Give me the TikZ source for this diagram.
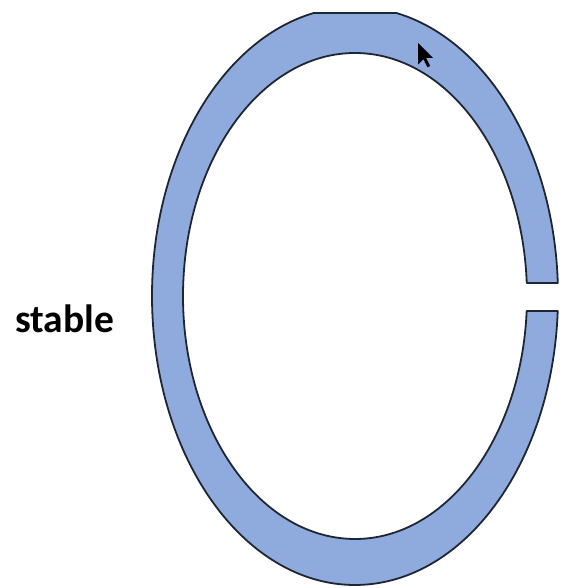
\documentclass[tikz,border=0pt]{standalone}
\usepackage{fontspec}
\setmainfont{Carlito}
\usetikzlibrary{positioning}

\definecolor{ringblue}{HTML}{8FAADC}
\definecolor{ringedge}{HTML}{1F2633}

\begin{document}
\begin{tikzpicture}[
    x=1pt, y=1pt,
    ring/.style={draw=ringedge, line width=1.8pt, fill=ringblue, line join=round}
  ]
  \useasboundingbox (0,0) rectangle (562,588);

  % open ring, gap on the right side
  \begin{scope}[shift={(355,292)}]
    \begin{scope}
      \clip (-215,-300) rectangle (215,283);
      \draw[ring] (2.58:203 and 289)
        arc[start angle=2.58, end angle=357.03, x radius=203, y radius=289]
        -- (356.46:172 and 243)
        arc[start angle=356.46, end angle=3.07, x radius=172, y radius=243]
        -- cycle;
    \end{scope}
    % cut-off top edge
    \draw[ringedge, line width=1.8pt] (-41,283) -- (41,283);
  \end{scope}

  \node[font=\bfseries\fontsize{39.5}{42}\selectfont, anchor=base west,
        inner sep=0pt] (stablelabel) at (15,255) {stable};

  % mouse pointer
  \fill[black, shift={(418,545)}, scale=1.35]
    (0,0) -- (0,-16) -- (4,-12) -- (7,-18) -- (9,-17) -- (6,-11) -- (11,-11) -- cycle;
\end{tikzpicture}
\end{document}
